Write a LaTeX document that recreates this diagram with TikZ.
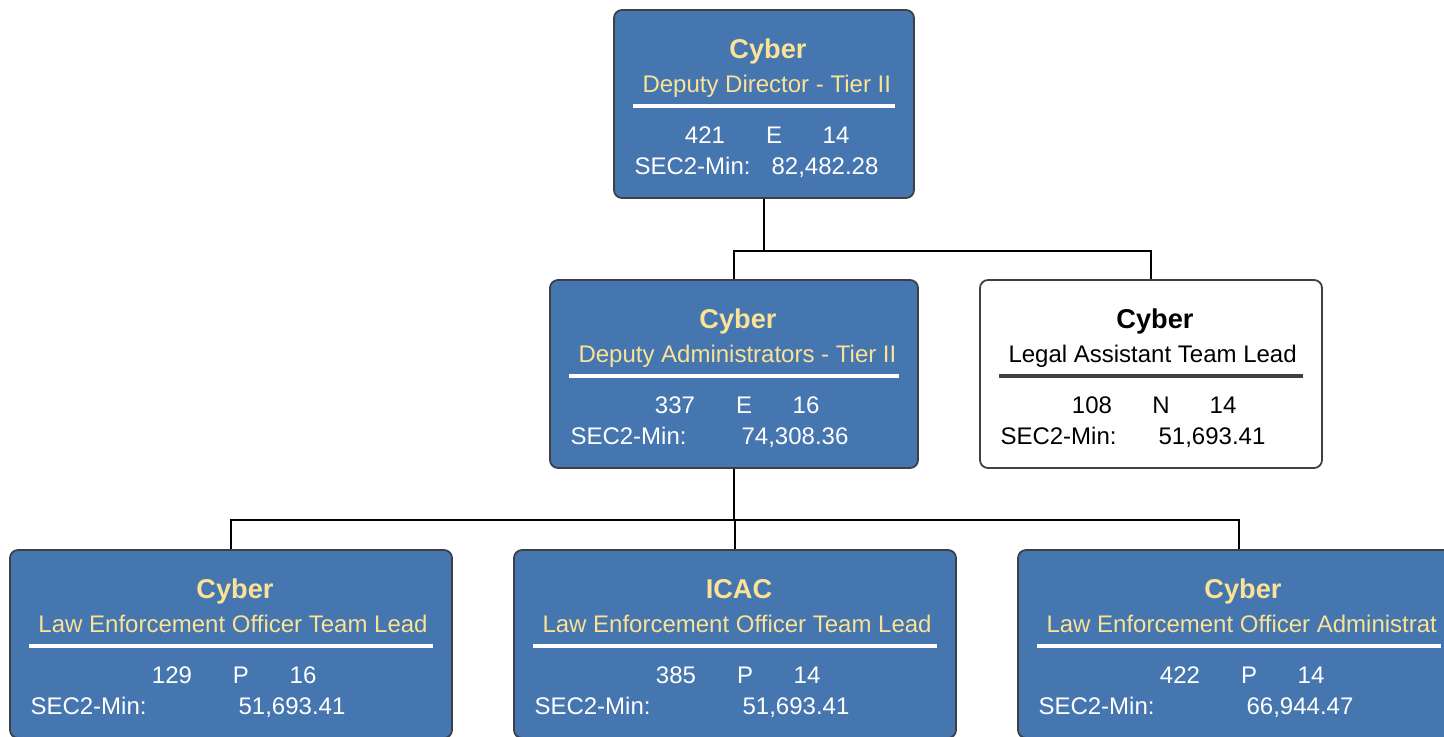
\documentclass[tikz,border=0pt]{standalone}
\usepackage{fontspec}
\setmainfont{Liberation Sans}

\definecolor{orgblue}{RGB}{70,118,175}
\definecolor{orgyellow}{RGB}{250,226,150}
\definecolor{boxline}{RGB}{60,64,72}
\definecolor{rulegray}{RGB}{64,64,64}

\tikzset{
  orgbox/.style={rectangle, rounded corners=4pt, draw=boxline, line width=0.9pt,
    minimum height=94pt, inner sep=0pt},
  link/.style={draw=black, line width=1pt},
  unitlbl/.style={anchor=base, inner sep=0pt, font=\fontsize{13.6}{16}\selectfont\bfseries},
  body/.style={anchor=base, inner sep=0pt, font=\fontsize{12}{14}\selectfont},
  head-blue/.style={text=orgyellow},
  head-white/.style={text=black},
  body-blue/.style={text=white},
  body-white/.style={text=black},
  rule-blue/.style={draw=white, line width=2.2pt},
  rule-white/.style={draw=rulegray, line width=2.2pt}
}

% name, tone, unit, title, id, type, grade, salary
\newcommand{\boxtext}[8]{%
  \node[unitlbl, head-#2] (#1-unit) at ([shift={(4,49)}]#1.north) {#3};
  \node[body, head-#2, anchor=base west] (#1-title) at ([shift={(29,83)}]#1.north west) {#4};
  \draw[rule-#2] ([shift={(20,97)}]#1.north west) -- ([shift={(-20,97)}]#1.north east);
  \node[body, body-#2] (#1-id) at ([shift={(-59,134)}]#1.north) {#5};
  \node[body, body-#2] (#1-type) at ([shift={(10,134)}]#1.north) {#6};
  \node[body, body-#2] (#1-grade) at ([shift={(72,134)}]#1.north) {#7};
  \node[body, body-#2, anchor=base west] (#1-sec) at ([shift={(21,165)}]#1.north west) {SEC2-Min:};
  \node[body, body-#2] (#1-pay) at ([shift={(61,165)}]#1.north) {#8};
}

\begin{document}
\begin{tikzpicture}[x=0.5pt, y=-0.5pt]
 \useasboundingbox (0,0) rectangle (1444,736);
 \clip (0,0) rectangle (1444,736);

 % top level
 \node[orgbox, fill=orgblue, minimum width=150pt] (dd) at (764,104) {};
 \boxtext{dd}{blue}{Cyber}{Deputy Director - Tier II}{421}{E}{14}{82,482.28}

 % second level
 \node[orgbox, fill=orgblue, minimum width=184pt] (da) at (734,374) {};
 \boxtext{da}{blue}{Cyber}{Deputy Administrators - Tier II}{337}{E}{16}{74,308.36}
 \node[orgbox, fill=white, minimum width=171pt] (la) at (1151,374) {};
 \boxtext{la}{white}{Cyber}{Legal Assistant Team Lead}{108}{N}{14}{51,693.41}

 % third level
 \node[orgbox, fill=orgblue, minimum width=221pt] (leo1) at (231,644) {};
 \boxtext{leo1}{blue}{Cyber}{Law Enforcement Officer Team Lead}{129}{P}{16}{51,693.41}
 \node[orgbox, fill=orgblue, minimum width=221pt] (icac) at (735,644) {};
 \boxtext{icac}{blue}{ICAC}{Law Enforcement Officer Team Lead}{385}{P}{14}{51,693.41}
 \node[orgbox, fill=orgblue, minimum width=221pt] (leo2) at (1239,644) {};
 \boxtext{leo2}{blue}{Cyber}{Law Enforcement Officer Administrat}{422}{P}{14}{66,944.47}

 % connectors
 \draw[link] (dd.south) -- ++(0,52) -| (da.north);
 \draw[link] (dd.south) -- ++(0,52) -| (la.north);
 \draw[link] (da.south) -- ++(0,51) -| (leo1.north);
 \draw[link] (da.south) -- ++(0,51) -| (icac.north);
 \draw[link] (da.south) -- ++(0,51) -| (leo2.north);

\end{tikzpicture}
\end{document}
